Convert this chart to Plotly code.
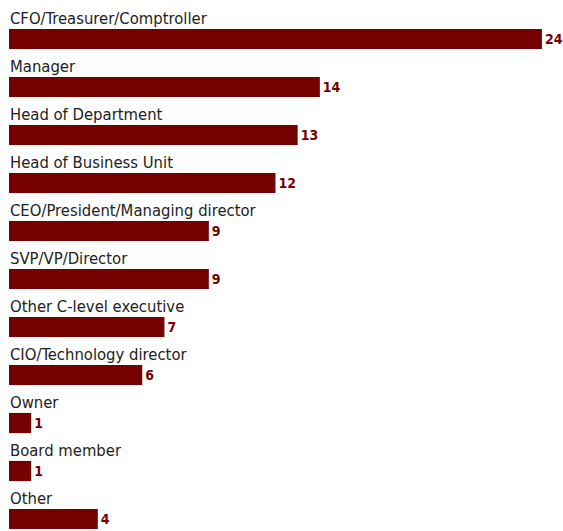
import plotly.graph_objects as go

roles = [
    "CFO/Treasurer/Comptroller",
    "Manager",
    "Head of Department",
    "Head of Business Unit",
    "CEO/President/Managing director",
    "SVP/VP/Director",
    "Other C-level executive",
    "CIO/Technology director",
    "Owner",
    "Board member",
    "Other",
]
counts = [24, 14, 13, 12, 9, 9, 7, 6, 1, 1, 4]

BAR_COLOR = "#760000"
LABEL_FONT = "DejaVu Sans Condensed, Liberation Sans Narrow, Arial Narrow, sans-serif"

idx = list(range(len(roles)))

fig = go.Figure(
    go.Bar(
        x=counts,
        y=idx,
        orientation="h",
        marker=dict(color=BAR_COLOR, line=dict(width=0)),
        width=0.42,
        text=[str(v) for v in counts],
        textposition="outside",
        textfont=dict(family=LABEL_FONT, size=14, color=BAR_COLOR, weight="bold"),
        cliponaxis=False,
        hoverinfo="skip",
    )
)

# category names sit above their bars
for i, name in zip(idx, roles):
    fig.add_annotation(
        x=0, y=i, xref="x", yref="y",
        text=name, showarrow=False,
        xanchor="left", yanchor="middle", yshift=21, xshift=-1,
        font=dict(family=LABEL_FONT, size=16.5, color="#222222"),
    )

fig.update_layout(
    width=563, height=531,
    margin=dict(l=9, r=0, t=0, b=0),
    paper_bgcolor="white", plot_bgcolor="white",
    showlegend=False,
    xaxis=dict(range=[0, 24.95], visible=False, fixedrange=True),
    yaxis=dict(range=[10.25, -0.8125], visible=False, fixedrange=True),
    uniformtext=dict(mode=False),
)

fig.write_html("out.html")
